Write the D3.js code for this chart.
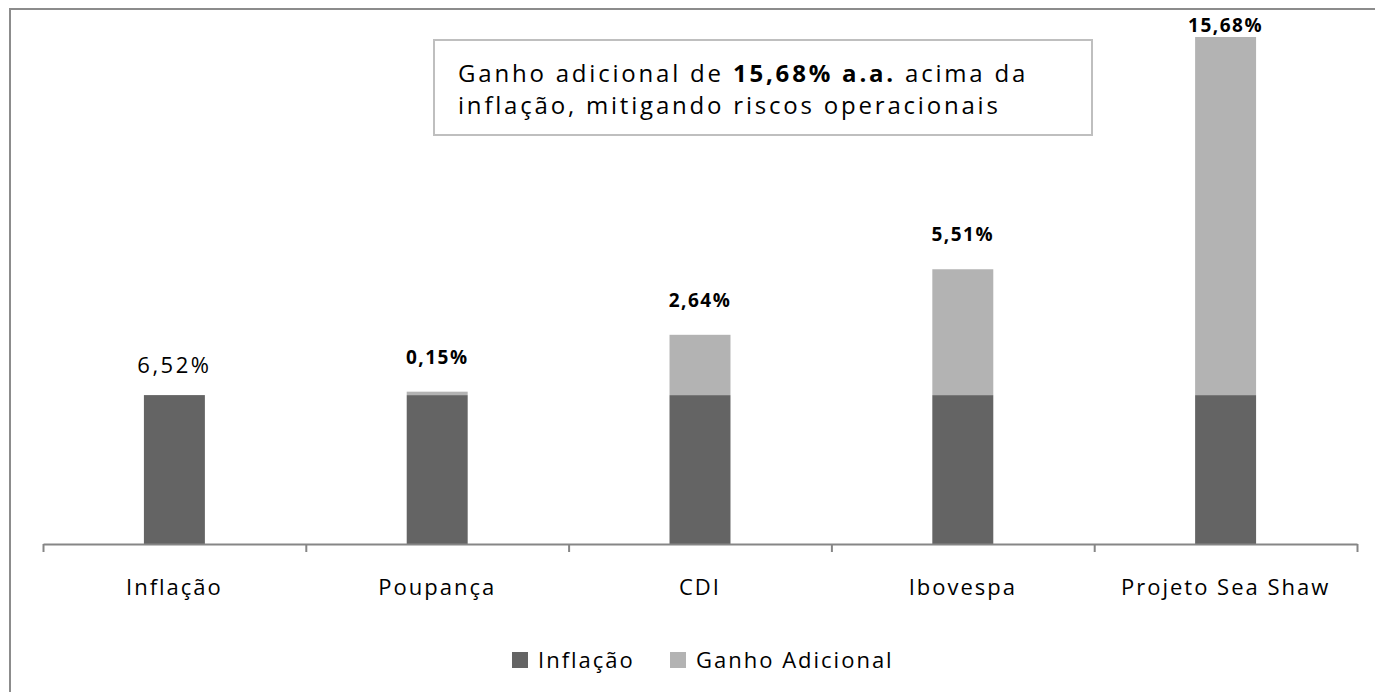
<!DOCTYPE html>
<html>
<head>
<meta charset="utf-8">
<script src="https://cdn.jsdelivr.net/npm/d3@7"></script>
<style>
  body { margin: 0; background: #fff; }
  svg { display: block; font-family: "Open Sans", sans-serif; }
</style>
</head>
<body>
<div id="chart"></div>
<script>
const categories = ["Inflação", "Poupança", "CDI", "Ibovespa", "Projeto Sea Shaw"];
const inflacao = [6.52, 6.52, 6.52, 6.52, 6.52];
const ganhoAdicional = [0, 0.15, 2.64, 5.51, 15.68];
const seriesNames = ["Inflação", "Ganho Adicional"];
const calloutLines = [
  [["Ganho adicional de ", false], ["15,68% a.a.", true], [" acima da", false]],
  [["inflação, mitigando riscos operacionais", false]],
];

const WIDTH = 1375;
const HEIGHT = 692;
const DARK = "#646464";
const LIGHT = "#b3b3b3";
const AXIS_COLOR = "#868686";
const LABEL_GAP = 28;
const LABEL_GAP_PLAIN = 22;
const LABEL_MIN_Y = 32;
const TEXT_SIZE = 22;
const TEXT_SPACING = 2;

const fmt = (v) => v.toFixed(2).replace(".", ",") + "%";

const svg = d3
  .select("#chart")
  .append("svg")
  .attr("width", WIDTH)
  .attr("height", HEIGHT);

// outer chart frame
svg
  .append("rect")
  .attr("x", 10)
  .attr("y", 9)
  .attr("width", WIDTH)
  .attr("height", HEIGHT)
  .attr("fill", "none")
  .attr("stroke", "#8c8c8c")
  .attr("stroke-width", 2);

const x = d3
  .scaleBand()
  .domain(categories)
  .range([43, 1357])
  .paddingInner(0.768)
  .paddingOuter(0.384);

const y = d3.scaleLinear().domain([0, 22.2]).range([544, 37]);

const rows = categories.map((c, i) => ({
  cat: c,
  inflacao: inflacao[i],
  ganho: ganhoAdicional[i],
}));

const stack = d3.stack().keys(["inflacao", "ganho"])(rows);
const colors = [DARK, LIGHT];

svg
  .append("g")
  .selectAll("g")
  .data(stack)
  .join("g")
  .attr("fill", (d, i) => colors[i])
  .selectAll("rect")
  .data((d) => d)
  .join("rect")
  .attr("x", (d) => x(d.data.cat))
  .attr("y", (d) => y(d[1]))
  .attr("width", x.bandwidth())
  .attr("height", (d) => y(d[0]) - y(d[1]));

// axis line with ticks between categories
const edge = d3.scaleLinear().domain([0, categories.length]).range(x.range());
svg
  .append("g")
  .attr("transform", `translate(0,${y(0)})`)
  .call(
    d3
      .axisBottom(edge)
      .ticks(categories.length)
      .tickSize(8)
      .tickSizeOuter(0)
      .tickFormat("")
  )
  .call((g) => g.select(".domain").attr("stroke", AXIS_COLOR).attr("stroke-width", 2))
  .call((g) => g.selectAll(".tick line").attr("stroke", AXIS_COLOR).attr("stroke-width", 2));

// category labels
svg
  .append("g")
  .attr("transform", `translate(0,${y(0)})`)
  .call(d3.axisBottom(x).tickSize(0).tickPadding(0))
  .call((g) => g.select(".domain").remove())
  .selectAll("text")
  .attr("dy", 0)
  .attr("y", 51)
  .attr("fill", "#000")
  .style("font-size", TEXT_SIZE + "px")
  .style("letter-spacing", TEXT_SPACING + "px")
  .style("font-family", "'Open Sans', sans-serif");

// value labels
svg
  .append("g")
  .selectAll("text")
  .data(rows)
  .join("text")
  .attr("x", (d) => x(d.cat) + x.bandwidth() / 2)
  .attr("y", (d) =>
    Math.max(
      y(d.inflacao + d.ganho) - (d.ganho > 0 ? LABEL_GAP : LABEL_GAP_PLAIN),
      LABEL_MIN_Y
    )
  )
  .attr("text-anchor", "middle")
  .attr("font-size", (d) => (d.ganho > 0 ? 19 : TEXT_SIZE))
  .attr("font-weight", (d) => (d.ganho > 0 ? "bold" : "normal"))
  .attr("letter-spacing", (d) => (d.ganho > 0 ? 1.5 : 2.5))
  .text((d) => fmt(d.ganho > 0 ? d.ganho : d.inflacao));

// callout box
svg
  .append("rect")
  .attr("x", 434)
  .attr("y", 40)
  .attr("width", 658)
  .attr("height", 95)
  .attr("fill", "#fff")
  .attr("stroke", "#bfbfbf")
  .attr("stroke-width", 2);

svg
  .append("g")
  .selectAll("text")
  .data(calloutLines)
  .join("text")
  .attr("x", 458)
  .attr("y", (d, i) => 82 + i * 32)
  .attr("font-size", 24)
  .attr("letter-spacing", 2.8)
  .attr("fill", "#000")
  .selectAll("tspan")
  .data((d) => d)
  .join("tspan")
  .attr("font-weight", (d) => (d[1] ? "bold" : "normal"))
  .text((d) => d[0]);

// legend
const legend = svg
  .append("g")
  .selectAll("g")
  .data(seriesNames)
  .join("g")
  .attr("transform", (d, i) => `translate(${[512, 670][i]},652)`);

legend
  .append("rect")
  .attr("width", 16)
  .attr("height", 16)
  .attr("fill", (d, i) => colors[i]);

legend
  .append("text")
  .attr("x", 26)
  .attr("y", 16)
  .attr("font-size", TEXT_SIZE)
  .attr("letter-spacing", TEXT_SPACING)
  .attr("fill", "#000")
  .text((d) => d);
</script>
</body>
</html>
